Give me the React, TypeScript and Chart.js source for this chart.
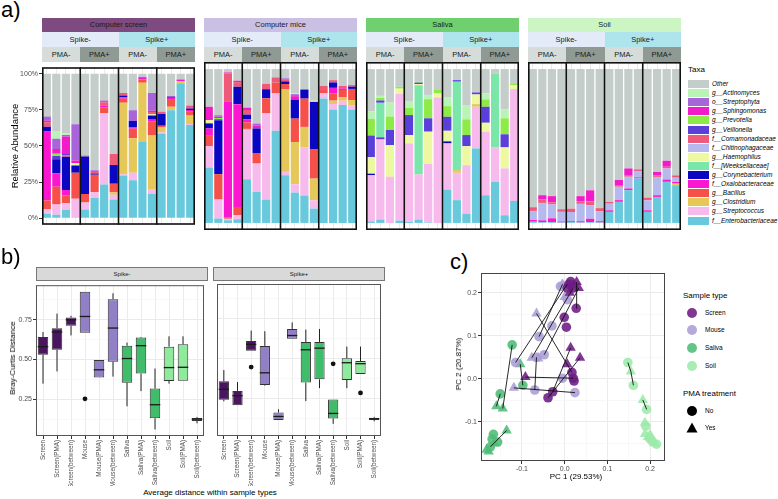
import React, { useEffect, useRef } from 'react';
import { Chart, registerables } from 'chart.js';

Chart.register(...registerables);

const FONT = '"Liberation Sans", Arial, Helvetica, sans-serif';
Chart.defaults.font.family = FONT;

// ================= Panel a : taxa composition =================
const facetNames = ['Computer screen', 'Computer mice', 'Saliva', 'Soil'];
const facetStripColors = ['#7d4b7f', '#cac0e3', '#70d070', '#cbf6c4'];
const spikeLabels = ['Spike-', 'Spike+'];
const spikeStripColors = ['#e3ebf8', '#aee5ec'];
const pmaLabels = ['PMA-', 'PMA+'];
const pmaStripColors = ['#d6dcda', '#8f9a95'];
const replicateLabels = ['1', '2', '3', '4'];
const percentTicks = [0, 25, 50, 75, 100];

// stack order, bottom to top
const taxaNames = [
  'f__Enterobacteriaceae', 'g__Streptococcus', 'g__Clostridium', 'g__Bacillus',
  'f__Oxalobacteraceae', 'g__Corynebacterium', 'f__[Weeksellaceae]', 'g__Haemophilus',
  'f__Chitinophagaceae', 'f__Comamonadaceae', 'g__Veillonella', 'g__Prevotella',
  'g__Sphingomonas', 'o__Streptophyta', 'g__Actinomyces', 'Other',
];
const taxaColors = [
  '#68c9dc', '#f7baec', '#e5c75a', '#f5504a',
  '#fa17cf', '#0a06c2', '#7be6aa', '#eef8a0',
  '#b6b9ee', '#ef5a7a', '#5a3fd9', '#8deb47',
  '#f21bc9', '#a765d9', '#b9f3b6', '#c4cdca',
];

// 64 samples: screen(16) | mice(16) | saliva(16) | soil(16)
const enterobacteriaceae = [
  3, 2.4, 5.6, 0.5, 6, 13.9, 23.4, 13, 29.5, 26.2, 52.7, 17, 58.6, 74.8, 93.5, 64.6,
  36, 2.8, 1.7, 2.4, 28.4, 20.2, 15.2, 59.9, 31, 19.7, 17.8, 9.3, 80.9, 73.8, 76.6, 73.8,
  1, 2.2, 0, 1.5, 0.7, 2.2, 0.3, 0, 21.7, 14.8, 6, 48.4, 18, 26.7, 5, 14.3,
  0.5, 0.5, 0.5, 0.3, 0.5, 0.3, 0.5, 0.3, 7.2, 13.7, 21.3, 28.9, 7.2, 16.9, 26.7, 24.5,
];
const streptococcus = [
  3.3, 7, 4.8, 13, 4.8, 4.1, 49.5, 3.3, 1, 5.2, 0, 3.2, 1, 0, 0, 0.6,
  13.9, 12.4, 1, 2.6, 31.9, 18.4, 56, 24.3, 2.2, 5.4, 31.2, 5.4, 3.3, 3.5, 2.8, 2.8,
  30, 52, 30, 82.5, 51, 29.3, 38, 81.6, 30, 17.8, 31.5, 27.1, 41.2, 22.3, 30.4, 72.7,
  0, 0, 0, 0, 0, 0, 0, 0, 0, 0, 0, 0, 0, 0, 0, 0,
];
const clostridium = [
  0, 0, 0, 0, 0, 0, 0, 1.7, 49.5, 24, 41.2, 37.5, 3.5, 2.4, 1.5, 5.9,
  0, 0, 0, 0, 0.8, 0, 0, 0, 53.6, 27.5, 13.4, 14.1, 0, 2.2, 2.2, 3.3,
  0, 0, 0, 0, 0, 0, 0, 0, 0, 1.7, 0, 1.7, 0, 0, 0, 0,
  0, 0, 0, 0, 0, 0, 0, 0, 0, 0, 0, 0, 0, 0, 0, 1.1,
];
const bacillus = [
  6, 12.4, 5.4, 18, 6, 12, 3.7, 5.9, 2.8, 6.5, 2.2, 9.5, 1, 5.4, 0, 2.6,
  7.2, 16.5, 1, 5.4, 4.3, 6.5, 9.8, 7, 3.5, 15.2, 18.4, 18.9, 2.2, 4.8, 4.8, 7.2,
  0, 0, 0, 0, 0, 0, 0, 0, 0, 0, 0, 0, 0, 0, 0, 0,
  0.5, 0, 0, 0, 0, 0, 0, 0, 0, 0, 0, 0, 0, 0, 0, 0,
];
const oxalobacteraceae = [
  47.7, 9.3, 3.7, 0, 0, 0, 1.5, 0, 0.9, 0.9, 0, 1.5, 0, 0.9, 1, 1.3,
  4.3, 0, 75, 66.8, 2, 0, 0, 0, 0, 0, 0, 0, 0, 3.5, 1.1, 0,
  0, 0.5, 0, 0, 0, 0, 0, 0, 0, 0, 0, 0, 0, 0, 0, 0,
  0.9, 1.2, 2.5, 0.6, 0.6, 0.8, 2.2, 0.8, 1, 1.1, 1.1, 0.7, 1, 1.1, 1.5, 1,
];
const corynebacterium = [
  3.3, 9.8, 23, 5, 26, 1, 0, 13, 1.3, 4.6, 0, 2.5, 8, 0.6, 0, 0.9,
  3.3, 35, 0, 11.3, 3, 16.3, 5.9, 0, 1.7, 12.4, 5.9, 31, 0, 3.5, 0, 1.5,
  1, 0.8, 0, 0, 0, 0, 0, 0, 1.3, 0, 0, 0, 0, 0, 0, 0,
  0, 0, 0, 0, 0, 0, 0, 0, 0, 0, 0, 0, 0, 0, 0, 0,
];
const weeksellaceae = [
  0, 0, 0, 0, 0, 0, 0, 0, 0, 0, 0, 0, 0, 0, 0, 0,
  0, 0, 0, 0, 0, 0, 0, 0, 0, 0, 0, 0, 0, 0, 0, 0,
  0, 22.6, 0, 0, 0, 58, 0, 0, 0, 57.5, 0, 0, 0, 48.2, 0, 0,
  0, 0, 0, 0, 0, 0, 0, 0, 0, 0, 0, 0, 0, 0, 0, 0,
];
const haemophilus = [
  0, 0, 0, 1.5, 0, 0, 0, 0, 0, 0, 0, 0.8, 0, 0, 0, 0,
  2.2, 0, 0, 0, 0, 0, 0, 0, 0, 0, 0, 0.7, 0, 0, 0, 0,
  10.8, 0, 20.6, 3.3, 5.4, 0.7, 21, 2.6, 6.9, 0, 12.4, 6.3, 5.9, 0, 13.7, 2.6,
  0, 0, 0, 0, 0, 0, 0, 0, 0, 0, 0, 0, 0, 0, 0, 0,
];
const chitinophagaceae = [
  0, 0, 0, 0, 0, 0, 0, 0, 0, 0, 0, 0, 0, 0, 0, 0,
  0, 0, 0, 0, 0, 0, 0, 0, 0, 0, 0, 0, 0, 0, 0, 0,
  0, 0, 0, 0, 0, 0, 0, 0, 0, 0, 0, 0, 0, 0, 0, 0,
  5.9, 11.3, 9, 6.3, 6, 11.3, 8.7, 6.5, 4.3, 8.7, 7.6, 4.1, 6.5, 11.9, 7.2, 2.8,
];
const comamonadaceae = [
  3.2, 0, 1, 0, 0.6, 1, 2.2, 7.6, 1.1, 0, 0, 1.5, 1.7, 0, 0, 2.1,
  0, 0, 18.4, 3, 3, 0, 3.5, 3.4, 1, 0, 0, 0, 2.6, 1.5, 1.5, 1,
  0, 0, 0, 0, 0, 0, 0, 0, 0, 0, 0, 0, 0, 0, 0, 0,
  2.4, 2.2, 1.4, 1.7, 2.2, 1.7, 2.6, 2, 1.2, 1.1, 1.1, 1.1, 1.7, 1.1, 1.1, 1.5,
];
const veillonella = [
  0, 2.2, 1, 0, 0, 0, 0, 0, 0, 0, 0, 0, 0, 0, 0, 0,
  0, 0.7, 0, 0, 0, 0, 0, 0, 0, 0, 0, 0, 0, 0, 0, 0,
  14, 1.5, 9.8, 0, 13, 1, 8.7, 0, 9.1, 1, 7.2, 1.3, 10.4, 0, 8.5, 0,
  0, 0, 0, 0, 0, 0, 0, 0, 0, 0, 0, 0, 0, 0, 0, 0,
];
const prevotella = [
  0, 1.5, 0, 0, 0, 0, 0, 0, 0, 0, 0, 0, 0, 0, 0, 0,
  0, 0.8, 0, 0, 0, 0, 0, 0, 0, 0, 0, 0, 0, 0, 0, 0,
  10.8, 1.7, 8.7, 1.2, 4.8, 0.6, 12.4, 2.2, 6.9, 0, 10.2, 0, 4.8, 0, 10.4, 0.7,
  0, 0, 0, 0, 0, 0, 0, 0, 0, 0, 0, 0, 0, 0, 0, 0,
];
const sphingomonas = [
  1, 3.3, 12, 2, 0, 0, 0, 0, 0, 0, 1, 1, 0, 0, 0, 0,
  8.6, 0.8, 0.7, 0.9, 1.5, 2, 0, 0, 0, 2.2, 0, 0, 0, 0, 0, 0,
  0, 0, 0, 0, 0, 0, 0, 0, 0, 0, 0, 0, 0, 0, 0, 0,
  0, 2.8, 4, 0, 0, 3.3, 7.2, 0, 0, 3.3, 4.3, 0, 0, 2.2, 3.9, 0,
];
const streptophyta = [
  3, 7.2, 1.2, 25, 0, 1.2, 1.3, 0, 0.7, 7.4, 0.9, 12.3, 0, 0.5, 0, 0,
  0, 1, 0, 0, 0, 1.2, 0, 0, 1, 1.3, 0, 0, 0, 0, 0, 0,
  0, 0, 0, 0, 0, 0, 0, 0, 0, 0, 0, 0, 0, 0, 0, 0,
  0, 0, 0, 0, 0, 0, 0, 0, 0, 0, 0, 0, 0, 0, 0, 0,
];
const actinomyces = [
  0, 5, 1, 0, 0, 0, 0, 0, 0, 0, 0, 0, 0, 0, 0, 0,
  0, 0, 0, 0, 0, 0, 0, 0, 0, 0.5, 0, 0, 0, 0, 0, 0,
  5, 1.3, 9.1, 0, 3.9, 0, 2.8, 0, 5.6, 0, 9.3, 0, 3.9, 0, 5.9, 0,
  0, 0, 0, 0, 0, 0, 0, 0, 0, 0, 0, 0, 0, 0, 0, 0,
];
const other = [
  29.5, 39.9, 41.3, 35, 56.6, 66.8, 18.4, 55.5, 13.2, 25.2, 2, 13.2, 26.2, 15.4, 4, 22,
  24.5, 30, 2.2, 7.6, 25.1, 35.4, 9.6, 5.4, 6, 15.8, 13.3, 20.6, 11, 7.2, 11, 10.4,
  27.4, 17.4, 21.8, 11.5, 21.2, 8.2, 16.8, 13.6, 18.5, 7.2, 23.4, 15.2, 15.8, 2.8, 26.1, 9.7,
  89.8, 82, 82.6, 91.1, 90.7, 82.6, 78.8, 90.4, 86.3, 72.1, 64.6, 65.2, 83.6, 66.8, 59.6, 69.1,
];
const taxaSeries = [
  enterobacteriaceae, streptococcus, clostridium, bacillus, oxalobacteraceae, corynebacterium,
  weeksellaceae, haemophilus, chitinophagaceae, comamonadaceae, veillonella, prevotella,
  sphingomonas, streptophyta, actinomyces, other,
];
const sampleLabels = facetNames.flatMap((f) =>
  spikeLabels.flatMap((s) => pmaLabels.flatMap((p) => replicateLabels.map((r) => `${f} ${s} ${p} ${r}`))),
);

// ================= Panel b : Bray-Curtis boxplots =================
const boxCategories = [
  'Screen', 'Screen(PMA)', 'Screen(between)', 'Mouse', 'Mouse(PMA)', 'Mouse(between)',
  'Saliva', 'Saliva(PMA)', 'Saliva(between)', 'Soil', 'Soil(PMA)', 'Soil(between)',
];
const boxColors = [
  '#4a1461', '#4a1461', '#4a1461', '#9180c5', '#9180c5', '#9180c5',
  '#3fbd6b', '#3fbd6b', '#3fbd6b', '#8fea9d', '#8fea9d', '#8fea9d',
];
const boxFacets = ['Spike-', 'Spike+'];
// Spike-
const minusLow = [0.348, 0.425, 0.652, 0.669, 0.386, 0.392, 0.205, 0.301, 0.059, 0.348, 0.366, 0.098];
const minusQ1 = [0.53, 0.561, 0.713, 0.669, 0.386, 0.486, 0.354, 0.411, 0.13, 0.364, 0.366, 0.112];
const minusMedian = [0.581, 0.673, 0.75, 0.771, 0.435, 0.698, 0.506, 0.587, 0.215, 0.449, 0.451, 0.124];
const minusQ3 = [0.642, 0.697, 0.764, 0.927, 0.496, 0.88, 0.587, 0.638, 0.317, 0.581, 0.596, 0.132];
const minusHigh = [0.673, 0.789, 0.775, 0.927, 0.496, 0.917, 0.606, 0.642, 0.443, 0.646, 0.646, 0.138];
const minusOutliers = [null, null, null, 0.252, null, null, null, null, null, null, null, null];
// Spike+
const plusLow = [0.235, 0.21, 0.551, 0.333, 0.118, 0.626, 0.236, 0.317, 0.094, 0.317, 0.405, 0.11];
const plusQ1 = [0.245, 0.21, 0.551, 0.337, 0.118, 0.626, 0.352, 0.372, 0.128, 0.368, 0.405, 0.118];
const plusMedian = [0.31, 0.27, 0.591, 0.413, 0.14, 0.646, 0.557, 0.567, 0.159, 0.476, 0.47, 0.126];
const plusQ3 = [0.36, 0.3, 0.612, 0.581, 0.165, 0.687, 0.606, 0.606, 0.246, 0.504, 0.486, 0.132];
const plusHigh = [0.43, 0.355, 0.677, 0.673, 0.185, 0.728, 0.683, 0.687, 0.246, 0.577, 0.577, 0.138];
const plusOutliers = [null, null, 0.449, null, null, null, null, null, 0.469, null, 0.287, null];

// ================= Panel c : PCA =================
const sampleTypes = ['Screen', 'Mouse', 'Saliva', 'Soil'];
const sampleTypeColors = ['rgba(109,27,132,0.88)', 'rgba(170,157,212,0.88)', 'rgba(79,188,118,0.88)', 'rgba(156,234,169,0.88)'];
const pmaTreatments = ['No', 'Yes'];
const screenNo = [[0.014, 0.226], [0.02, 0.211], [0.006, 0.211], [0.027, 0.164], [-0.001, 0.143], [0.004, 0.12], [0.017, 0.015], [0.02, 0.0015], [0.022, -0.005], [-0.039, -0.044], [-0.028, -0.03], [0.01, 0.22]];
const screenYes = [[0.033, 0.211], [0.021, 0.218], [0.028, 0.225], [0.014, 0.072], [0.036, 0.049], [0.006, 0.034], [-0.092, 0.004], [0.012, 0.2]];
const mouseNo = [[0.006, 0.184], [-0.03, 0.123], [-0.06, 0.098], [-0.048, 0.056], [-0.115, 0.038], [-0.005, 0.0015], [-0.07, -0.026], [0.024, -0.032], [-0.065, 0.05], [-0.01, 0.215]];
const mouseYes = [[-0.005, 0.22], [-0.066, 0.152], [-0.077, 0.049], [-0.062, 0.047], [-0.119, -0.021], [0.0, 0.19]];
const salivaNo = [[-0.123, 0.079], [-0.098, -0.015], [-0.151, -0.035], [-0.167, -0.129], [-0.157, -0.147], [-0.174, -0.158], [-0.17, -0.14]];
const salivaYes = [[-0.104, 0.034], [-0.16, -0.064], [-0.145, -0.069], [-0.136, -0.12], [-0.178, -0.169], [-0.183, -0.165], [-0.165, -0.15]];
const soilNo = [[0.148, 0.038], [0.161, -0.015], [0.192, -0.071], [0.19, -0.11], [0.199, -0.139], [0.215, -0.152], [0.205, -0.145]];
const soilYes = [[0.155, 0.017], [0.183, -0.049], [0.188, -0.102], [0.188, -0.128], [0.195, -0.135], [0.21, -0.15], [0.2, -0.13]];
const pairLinks = [
  [-0.115, 0.038, 0.006, 0.22], [-0.077, 0.049, 0.02, 0.211], [-0.048, 0.056, 0.033, 0.211],
  [-0.039, -0.044, 0.036, 0.049], [-0.028, -0.03, 0.014, 0.072], [-0.066, 0.152, 0.017, 0.015],
  [-0.092, 0.004, 0.02, 0.0015], [-0.119, -0.021, 0.024, -0.032], [-0.07, -0.026, -0.066, 0.05],
  [-0.123, 0.079, -0.145, -0.069], [-0.104, 0.034, -0.098, -0.015], [-0.151, -0.035, -0.16, -0.064],
  [-0.136, -0.12, -0.174, -0.158], [0.148, 0.038, 0.155, 0.017], [0.155, 0.017, 0.161, -0.015],
  [0.183, -0.049, 0.192, -0.071], [0.027, 0.164, 0.028, 0.225], [-0.06, 0.098, -0.005, 0.22],
];

// ================= helpers =================
const isMultiple = (v: number, step: number) => Math.abs(v / step - Math.round(v / step)) < 1e-6;
const GRID = '#ebebeb';
const GRID_MINOR = '#f4f4f4';
const AXIS_TEXT = '#4d4d4d';

function ChartCanvas({ left, top, width, height, make }: { left: number; top: number; width: number; height: number; make: () => any }) {
  const ref = useRef<HTMLCanvasElement>(null);
  useEffect(() => {
    const chart = new Chart(ref.current as HTMLCanvasElement, make());
    return () => chart.destroy();
  }, []);
  return (
    <canvas ref={ref} width={width} height={height} style={{ position: 'absolute', left, top, width, height }} />
  );
}

const barFrame = {
  id: 'barFrame',
  afterDatasetsDraw(chart: any) {
    const { ctx, chartArea: a, scales } = chart;
    const xs = scales.x;
    ctx.save();
    ctx.strokeStyle = '#111';
    ctx.lineWidth = 1.6;
    ctx.strokeRect(a.left + 0.8, a.top + 0.8, a.right - a.left - 1.6, a.bottom - a.top - 1.6);
    for (let k = replicateLabels.length; k < xs.ticks.length; k += replicateLabels.length) {
      const px = (xs.getPixelForTick(k - 1) + xs.getPixelForTick(k)) / 2;
      ctx.beginPath();
      ctx.moveTo(px, a.top);
      ctx.lineTo(px, a.bottom);
      ctx.stroke();
    }
    ctx.restore();
  },
};

function barConfig(facet: number) {
  const n = sampleLabels.length / facetNames.length;
  const start = facet * n;
  const first = facet === 0;
  return {
    type: 'bar',
    data: {
      labels: sampleLabels.slice(start, start + n),
      datasets: taxaSeries.map((vals, k) => ({
        label: taxaNames[k],
        data: vals.slice(start, start + n),
        backgroundColor: taxaColors[k],
        borderWidth: 0,
        barPercentage: 0.86,
        categoryPercentage: 1,
      })),
    },
    options: {
      animation: false,
      responsive: false,
      layout: { padding: 0 },
      plugins: { legend: { display: false }, tooltip: { enabled: false } },
      scales: {
        x: {
          stacked: true,
          grid: { color: GRID, offset: false, drawTicks: false },
          border: { display: false },
          ticks: { display: false },
          afterFit: (s: any) => { s.height = 0; },
        },
        y: {
          stacked: true,
          display: first,
          min: -4.6,
          max: 104.6,
          grid: { drawOnChartArea: false, drawTicks: true, tickLength: 3, tickColor: '#333' },
          border: { display: false },
          afterBuildTicks: (s: any) => { s.ticks = percentTicks.map((v) => ({ value: v })); },
          ticks: { color: AXIS_TEXT, font: { size: 7 }, padding: 1, callback: (v: any) => `${v}%` },
          afterFit: (s: any) => { s.width = first ? 42 : 0; },
        },
      },
    },
    plugins: [barFrame],
  };
}

function boxConfig(side: number) {
  const low = side ? plusLow : minusLow;
  const q1 = side ? plusQ1 : minusQ1;
  const med = side ? plusMedian : minusMedian;
  const q3 = side ? plusQ3 : minusQ3;
  const high = side ? plusHigh : minusHigh;
  const outliers = side ? plusOutliers : minusOutliers;
  const whiskers = {
    id: 'whiskers',
    beforeDatasetsDraw(chart: any) {
      const { ctx, scales } = chart;
      const meta = chart.getDatasetMeta(1);
      ctx.save();
      ctx.strokeStyle = '#222';
      ctx.lineWidth = 1;
      meta.data.forEach((el: any, i: number) => {
        ctx.beginPath();
        ctx.moveTo(el.x, scales.y.getPixelForValue(high[i]));
        ctx.lineTo(el.x, scales.y.getPixelForValue(q3[i]));
        ctx.moveTo(el.x, scales.y.getPixelForValue(q1[i]));
        ctx.lineTo(el.x, scales.y.getPixelForValue(low[i]));
        ctx.stroke();
      });
      ctx.restore();
    },
    afterDatasetsDraw(chart: any) {
      const { ctx, scales, chartArea: a } = chart;
      const meta = chart.getDatasetMeta(1);
      ctx.save();
      ctx.strokeStyle = '#1a1a1a';
      ctx.lineWidth = 1.3;
      meta.data.forEach((el: any, i: number) => {
        const y = scales.y.getPixelForValue(med[i]);
        ctx.beginPath();
        ctx.moveTo(el.x - el.width / 2, y);
        ctx.lineTo(el.x + el.width / 2, y);
        ctx.stroke();
      });
      ctx.strokeStyle = '#555';
      ctx.lineWidth = 1;
      ctx.strokeRect(a.left + 0.5, a.top + 0.5, a.right - a.left - 1, a.bottom - a.top - 1);
      ctx.restore();
    },
  };
  return {
    type: 'bar',
    data: {
      labels: boxCategories,
      datasets: [
        {
          type: 'line',
          data: outliers,
          showLine: false,
          pointRadius: 2.4,
          pointBackgroundColor: '#111',
          pointBorderWidth: 0,
          order: 0,
        },
        {
          type: 'bar',
          data: q1.map((v, i) => [v, q3[i]]),
          backgroundColor: boxColors,
          borderColor: '#333',
          borderWidth: 1,
          borderSkipped: false,
          barPercentage: 0.75,
          categoryPercentage: 1,
          order: 1,
        },
      ],
    },
    options: {
      animation: false,
      responsive: false,
      layout: { padding: 0 },
      plugins: { legend: { display: false }, tooltip: { enabled: false } },
      scales: {
        x: {
          grid: { color: GRID, offset: false, drawTicks: true, tickLength: 3, tickColor: '#333' },
          border: { display: false },
          ticks: { color: AXIS_TEXT, font: { size: 6.3 }, padding: 1, maxRotation: 90, minRotation: 90, autoSkip: false },
          afterFit: (s: any) => { s.height = 50; },
        },
        y: {
          min: 0.018,
          max: 0.968,
          grid: {
            color: (c: any) => (isMultiple(c.tick.value, 0.25) ? GRID : GRID_MINOR),
            lineWidth: (c: any) => (isMultiple(c.tick.value, 0.25) ? 1 : 0.6),
            drawTicks: side === 0,
            tickLength: 3,
            tickColor: (c: any) => (isMultiple(c.tick.value, 0.25) ? '#333' : 'rgba(0,0,0,0)'),
          },
          border: { display: false },
          ticks: {
            display: side === 0,
            stepSize: 0.125,
            includeBounds: false,
            color: AXIS_TEXT,
            font: { size: 7 },
            padding: 1,
            callback: (v: any) => (isMultiple(v, 0.25) ? Number(v).toFixed(2) : ''),
          },
          afterFit: (s: any) => { s.width = side === 0 ? 36 : 0; },
        },
      },
    },
    plugins: [whiskers],
  };
}

function pcaConfig() {
  const groups = [
    [screenNo, screenYes], [mouseNo, mouseYes], [salivaNo, salivaYes], [soilNo, soilYes],
  ];
  const pointSets: any[] = [];
  groups.forEach((g, t) => {
    g.forEach((pts, p) => {
      pointSets.push({
        label: `${sampleTypes[t]} ${pmaTreatments[p]}`,
        data: pts.map(([x, y]) => ({ x, y })),
        pointStyle: p === 0 ? 'circle' : 'triangle',
        pointRadius: p === 0 ? 4.8 : 6,
        pointBackgroundColor: sampleTypeColors[t],
        pointBorderWidth: 0,
        order: 1,
      });
    });
  });
  const lines = pairLinks.map(([x1, y1, x2, y2]) => ({
    type: 'line',
    data: [{ x: x1, y: y1 }, { x: x2, y: y2 }],
    borderColor: '#111',
    borderWidth: 0.9,
    pointRadius: 0,
    showLine: true,
    order: 0,
  }));
  const frame = {
    id: 'pcaFrame',
    afterDatasetsDraw(chart: any) {
      const { ctx, chartArea: a } = chart;
      ctx.save();
      ctx.strokeStyle = '#444';
      ctx.lineWidth = 1;
      ctx.strokeRect(a.left + 0.5, a.top + 0.5, a.right - a.left - 1, a.bottom - a.top - 1);
      ctx.restore();
    },
  };
  const fmt = (v: any) => (isMultiple(v, 0.1) ? (Math.round(v * 10) / 10).toFixed(1) : '');
  const gridOpts = {
    color: (c: any) => (isMultiple(c.tick.value, 0.1) ? GRID : GRID_MINOR),
    lineWidth: (c: any) => (isMultiple(c.tick.value, 0.1) ? 1 : 0.6),
    tickLength: 3,
    tickColor: (c: any) => (isMultiple(c.tick.value, 0.1) ? '#333' : 'rgba(0,0,0,0)'),
  };
  return {
    type: 'scatter',
    data: { datasets: [...lines, ...pointSets] },
    options: {
      animation: false,
      responsive: false,
      layout: { padding: 0 },
      plugins: { legend: { display: false }, tooltip: { enabled: false } },
      scales: {
        x: {
          type: 'linear',
          min: -0.196,
          max: 0.235,
          grid: gridOpts,
          border: { display: false },
          ticks: { stepSize: 0.05, includeBounds: false, color: AXIS_TEXT, font: { size: 7 }, padding: 1, maxRotation: 0, autoSkip: false, callback: fmt },
          afterFit: (s: any) => { s.height = 14; },
        },
        y: {
          type: 'linear',
          min: -0.191,
          max: 0.246,
          grid: gridOpts,
          border: { display: false },
          ticks: { stepSize: 0.05, includeBounds: false, color: AXIS_TEXT, font: { size: 7 }, padding: 1, autoSkip: false, callback: fmt },
          afterFit: (s: any) => { s.width = 26; },
        },
      },
    },
    plugins: [frame],
  };
}

// ================= HTML bits =================
function Strip({ left, top, width, height, bg, text, size, border }: any) {
  return (
    <div
      style={{
        position: 'absolute', left, top, width, height, background: bg,
        display: 'flex', alignItems: 'center', justifyContent: 'center',
        fontSize: size, lineHeight: 1, color: '#1a1a1a', boxSizing: 'border-box',
        border: border || 'none', whiteSpace: 'nowrap',
      }}
    >
      {text}
    </div>
  );
}

function Text({ x, y, size, rotate, children, italic, left }: any) {
  return (
    <div
      style={{
        position: 'absolute', left: x, top: y, fontSize: size, lineHeight: 1, whiteSpace: 'nowrap',
        fontStyle: italic ? 'italic' : 'normal',
        transform: left ? 'translate(0,-50%)' : `translate(-50%,-50%)${rotate ? ' rotate(-90deg)' : ''}`,
      }}
    >
      {children}
    </div>
  );
}

const A_LEFT = 42;
const A_STEP = 162;
const A_W = 153;

export default function App() {
  const legendOrder = taxaNames.map((_, i) => taxaNames.length - 1 - i);
  return (
    <div
      style={{
        position: 'fixed', left: 0, top: 0, width: 778, height: 499, background: '#fff',
        overflow: 'hidden', fontFamily: FONT, color: '#000',
      }}
    >
      {/* ---------- panel a ---------- */}
      <div style={{ position: 'absolute', left: 1, top: -1, fontSize: 22, lineHeight: 1 }}>a)</div>
      {facetNames.map((name, f) => {
        const x0 = A_LEFT + f * A_STEP;
        return (
          <React.Fragment key={name}>
            <Strip left={x0} top={18} width={A_W} height={14} bg={facetStripColors[f]} text={name} size={7.5} />
            {spikeLabels.map((s, si) => (
              <Strip key={s} left={x0 + si * (A_W / 2)} top={32} width={A_W / 2} height={15} bg={spikeStripColors[si]} text={s} size={7.5} />
            ))}
            {spikeLabels.map((s, si) =>
              pmaLabels.map((p, pi) => (
                <Strip
                  key={s + p}
                  left={x0 + si * (A_W / 2) + pi * (A_W / 4)}
                  top={47}
                  width={A_W / 4}
                  height={15}
                  bg={pmaStripColors[pi]}
                  text={p}
                  size={7.5}
                />
              )),
            )}
            <ChartCanvas
              left={f === 0 ? 0 : x0}
              top={62}
              width={f === 0 ? x0 + A_W : A_W}
              height={168}
              make={() => barConfig(f)}
            />
          </React.Fragment>
        );
      })}
      <Text x={15} y={146} size={9.5} rotate>Relative Abundance</Text>
      <Text x={688} y={70} size={8} left>Taxa</Text>
      {legendOrder.map((k, j) => (
        <React.Fragment key={taxaNames[k]}>
          <div style={{ position: 'absolute', left: 688, top: 84 + j * 9.1 - 4, width: 21, height: 8, background: taxaColors[k] }} />
          <Text x={712} y={84 + j * 9.1} size={6.5} italic left>{taxaNames[k]}</Text>
        </React.Fragment>
      ))}

      {/* ---------- panel b ---------- */}
      <div style={{ position: 'absolute', left: 1, top: 246, fontSize: 22, lineHeight: 1 }}>b)</div>
      {boxFacets.map((name, side) => (
        <Strip
          key={name}
          left={side === 0 ? 36 : 213}
          top={267}
          width={172}
          height={14}
          bg="#d9d9d9"
          text={name}
          size={6}
          border="1px solid #777"
        />
      ))}
      <ChartCanvas left={0} top={280} width={208} height={206} make={() => boxConfig(0)} />
      <ChartCanvas left={213} top={280} width={172} height={206} make={() => boxConfig(1)} />
      <Text x={13} y={358} size={8} rotate>Bray-Curtis Distance</Text>
      <Text x={210} y={493} size={8}>Average distance within sample types</Text>

      {/* ---------- panel c ---------- */}
      <div style={{ position: 'absolute', left: 450, top: 251, fontSize: 22, lineHeight: 1 }}>c)</div>
      <ChartCanvas left={455} top={267} width={216} height={208} make={() => pcaConfig()} />
      <Text x={576} y={477} size={8}>PC 1 (29.53%)</Text>
      <Text x={459} y={364} size={8} rotate>PC 2 (20.87%)</Text>
      <Text x={683} y={296} size={8} left>Sample type</Text>
      {sampleTypes.map((t, i) => (
        <React.Fragment key={t}>
          <div
            style={{
              position: 'absolute', left: 692 - 5, top: 312.7 + i * 17.7 - 5, width: 10, height: 10,
              borderRadius: '50%', background: sampleTypeColors[i],
            }}
          />
          <Text x={705} y={312.7 + i * 17.7} size={6.5} left>{t}</Text>
        </React.Fragment>
      ))}
      <Text x={683} y={394} size={8} left>PMA treatment</Text>
      {pmaTreatments.map((p, i) => (
        <React.Fragment key={p}>
          <svg style={{ position: 'absolute', left: 686, top: 410.7 + i * 17.6 - 6, width: 12, height: 12 }} viewBox="0 0 12 12">
            {i === 0 ? <circle cx={6} cy={6} r={5} fill="#000" /> : <polygon points="6,0.5 11.5,10.5 0.5,10.5" fill="#000" />}
          </svg>
          <Text x={705} y={410.7 + i * 17.6} size={6.5} left>{p}</Text>
        </React.Fragment>
      ))}
    </div>
  );
}
